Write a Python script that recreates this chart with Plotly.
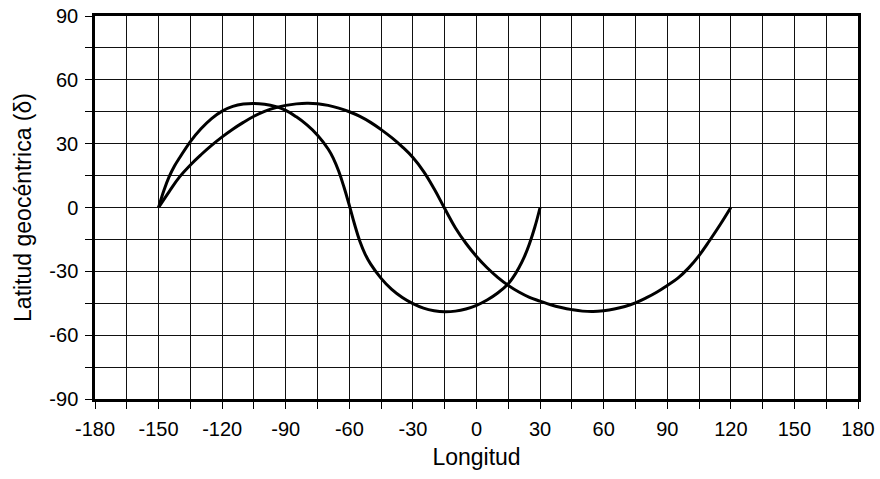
import plotly.graph_objects as go

# Ground track 1: one half-revolution span (-150 .. 30 deg longitude)
track1_lon = [-150, -147.5, -145, -142.5, -140, -135, -130, -125, -120, -115, -110, -105,
              -100, -95, -90, -85, -80, -75, -70, -67.5, -65, -62.5, -60, -57.5, -55,
              -52.5, -50, -45, -40, -35, -30, -25, -20, -15, -10, -5, 0, 5, 10, 15,
              17.5, 20, 22.5, 25, 27.5, 30]
track1_lat = [0, 8, 14.5, 19.5, 23.5, 31, 37, 41.8, 45.3, 47.5, 48.6, 48.9,
              48.5, 47.5, 45.6, 42.6, 38.8, 34, 27.5, 23, 17, 9.5, 1, -8, -16,
              -22, -26.5, -33.3, -38.5, -42.3, -45.2, -47.3, -48.5, -49, -48.7, -47.7, -46, -43.5, -40.2, -35.8,
              -32.5, -28.3, -23.3, -17, -9.3, 0]

# Ground track 2: longer span (-150 .. 120 deg longitude)
track2_lon = [-150, -145, -140, -135, -130, -125, -120, -115, -110, -105,
              -100, -95, -90, -85, -80, -75, -70, -65, -60, -55, -50, -45, -40, -35,
              -30, -25, -20, -15, -10, -5, 0, 5, 10, 15, 20, 25, 30, 35, 40, 45, 50,
              55, 60, 65, 70, 75, 80, 85, 90, 95, 100, 105, 110, 115, 120]
track2_lat = [0, 7.5, 14.5, 20, 24.8, 29.2, 33.2, 36.8, 40, 42.9,
              45.2, 46.9, 48, 48.7, 49, 48.8, 48, 46.7, 45, 42.8, 40, 36.6, 32.8, 28.5,
              23.5, 17, 8.8, -0.5, -9.5, -16.8, -23, -28.3, -32.8, -36.6, -39.7, -42.2, -44, -45.7, -47, -48, -48.7,
              -48.9, -48.5, -47.7, -46.5, -44.8, -42.5, -39.8, -36.6, -33.2, -28.5, -22.6, -15.5, -8, 0]

x_tick_values = [-180, -165, -150, -135, -120, -105, -90, -75, -60, -45, -30, -15, 0,
                 15, 30, 45, 60, 75, 90, 105, 120, 135, 150, 165, 180]
x_tick_labels = ["-180", "", "-150", "", "-120", "", "-90", "", "-60", "", "-30", "", "0",
                 "", "30", "", "60", "", "90", "", "120", "", "150", "", "180"]
y_tick_values = [-90, -75, -60, -45, -30, -15, 0, 15, 30, 45, 60, 75, 90]
y_tick_labels = ["-90", "", "-60", "", "-30", "", "0", "", "30", "", "60", "", "90"]

FONT = "Liberation Sans, Arial, sans-serif"

fig = go.Figure()
for lon, lat in ((track1_lon, track1_lat), (track2_lon, track2_lat)):
    fig.add_trace(go.Scatter(
        x=lon, y=lat, mode="lines",
        line=dict(color="black", width=3, shape="spline", smoothing=1.2),
        hoverinfo="skip", showlegend=False,
    ))

axis_common = dict(
    showline=True, linecolor="black", linewidth=2.5, mirror=True,
    showgrid=True, gridcolor="#111111", gridwidth=1,
    ticks="outside", ticklen=7, tickwidth=1, tickcolor="black",
    zeroline=False, automargin=False,
    tickfont=dict(family=FONT, size=20, color="black"),
)

fig.update_xaxes(
    range=[-180, 180], tickmode="array",
    tickvals=x_tick_values, ticktext=x_tick_labels,
    ticklabelstandoff=3,
    title=dict(text="Longitud", font=dict(family=FONT, size=23, color="black"), standoff=11),
    **axis_common,
)
fig.update_yaxes(
    range=[-90, 90], tickmode="array",
    tickvals=y_tick_values, ticktext=y_tick_labels,
    ticklabelstandoff=3,
    title=dict(text="Latitud geocéntrica (δ)", font=dict(family=FONT, size=23, color="black"), standoff=12),
    **axis_common,
)

fig.update_layout(
    width=880, height=479,
    margin=dict(l=95, r=22, t=16, b=80),
    paper_bgcolor="white", plot_bgcolor="white",
    font=dict(family=FONT, color="black"),
)

fig.write_html("out.html")
